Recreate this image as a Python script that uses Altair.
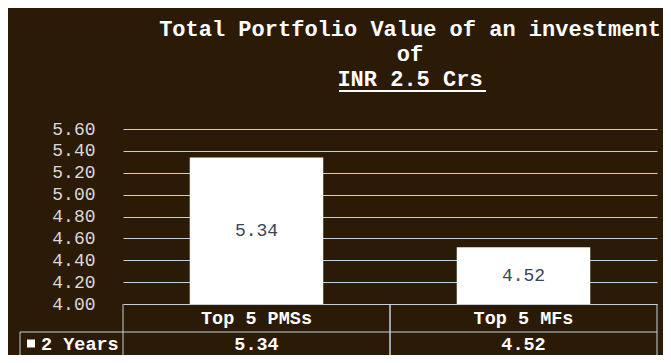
import altair as alt
import pandas as pd

# ---- data ----
categories = ["Top 5 PMSs", "Top 5 MFs"]
values = [5.34, 4.52]
series_name = "2 Years"
y_ticks = [4.0, 4.2, 4.4, 4.6, 4.8, 5.0, 5.2, 5.4, 5.6]
y_min, y_max = 4.0, 5.6
title_lines = ["Total Portfolio Value of an investment", "of", "INR 2.5 Crs"]

df = pd.DataFrame({"cat": categories, "val": values})
one = pd.DataFrame({"k": [0]})

# ---- style ----
BG = "#2b1b06"
LINE = "#c3d0de"
FONT = "Liberation Mono"
W, H = 534, 175

xscale = alt.Scale(paddingInner=0, paddingOuter=0)
yscale = alt.Scale(domain=[y_min, y_max], nice=False, zero=False)
yaxis = alt.Axis(
    values=y_ticks, format=".2f", title=None, domain=False, ticks=False,
    labelFont=FONT, labelFontSize=18, labelColor="#d9d9d9", labelPadding=28,
    grid=True, gridColor=LINE, gridWidth=1, gridOpacity=1)

x = alt.X("cat:N", sort=categories, scale=xscale, axis=None)

base = alt.Chart(df)

bars = base.mark_bar(color="white", width=alt.RelativeBandSize(0.5)).encode(
    x=x,
    y=alt.Y("val:Q", scale=yscale, axis=yaxis),
    y2=alt.datum(y_min),
)

bar_labels = base.transform_calculate(mid=f"(datum.val + {y_min}) / 2").mark_text(
    font=FONT, fontSize=18, color="#38445a", baseline="middle"
).encode(
    x=x,
    y=alt.Y("mid:Q", scale=yscale, axis=yaxis),
    text=alt.Text("val:Q", format=".2f"),
)

# ---- data table under the axis ----
header = base.mark_text(font=FONT, fontSize=18.5, fontWeight="bold", color="white",
                        baseline="middle").encode(
    x=x, y=alt.value(H + 14), text="cat:N")
row_vals = base.mark_text(font=FONT, fontSize=18.5, fontWeight="bold", color="white",
                          baseline="middle").encode(
    x=x, y=alt.value(H + 39.5), text=alt.Text("val:Q", format=".2f"))

vl = base.mark_rule(color=LINE, strokeWidth=1).encode(
    x=alt.X("cat:N", sort=categories, scale=xscale, axis=None, bandPosition=0),
    y=alt.value(H), y2=alt.value(H + 53))
vr = base.mark_rule(color=LINE, strokeWidth=1).encode(
    x=alt.X("cat:N", sort=categories, scale=xscale, axis=None, bandPosition=1),
    y=alt.value(H), y2=alt.value(H + 53))

h1 = alt.Chart(one).mark_rule(color=LINE, strokeWidth=1).encode(
    x=alt.value(-103), x2=alt.value(W), y=alt.value(H + 28))
h2 = alt.Chart(one).mark_rule(color=LINE, strokeWidth=1).encode(
    x=alt.value(-103), x2=alt.value(W), y=alt.value(H + 53))
v0 = alt.Chart(one).mark_rule(color=LINE, strokeWidth=1).encode(
    x=alt.value(-103), y=alt.value(H + 28), y2=alt.value(H + 53))

legend_sym = alt.Chart(one).mark_point(shape="square", filled=True, size=64,
                                       color="white", opacity=1).encode(
    x=alt.value(-92), y=alt.value(H + 39.5))
legend_txt = alt.Chart(one).transform_calculate(name=f"'{series_name}'").mark_text(
    font=FONT, fontSize=18.5, fontWeight="bold", color="white", align="left",
    baseline="middle").encode(
    x=alt.value(-82), y=alt.value(H + 39.5), text="name:N")

underline = alt.Chart(one).mark_rule(color="white", strokeWidth=2).encode(
    x=alt.value(216), x2=alt.value(363), y=alt.value(-38))

chart = alt.layer(
    bars, bar_labels, header, row_vals, vl, vr, h1, h2, v0, legend_sym, legend_txt, underline
).properties(
    width=W, height=H,
    background=BG,
    padding={"left": 115, "top": 121, "right": 6, "bottom": 51},
    autosize=alt.AutoSizeParams(type="none"),
    title=alt.TitleParams(
        text=title_lines, font=FONT, fontSize=22, fontWeight="bold", color="white",
        anchor="middle", dx=20, dy=61, lineHeight=25, offset=38, baseline="bottom",
    ),
).configure_view(stroke=None)

chart.save("out.html", embed_options={"renderer": "svg", "actions": False})
